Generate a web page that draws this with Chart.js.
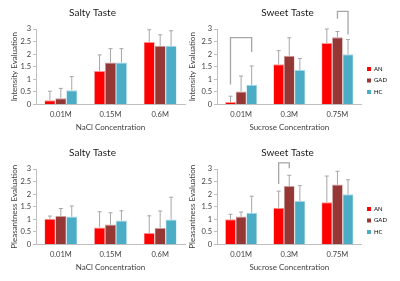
<!DOCTYPE html>
<html>
<head>
<meta charset="utf-8">
<script src="https://cdn.jsdelivr.net/npm/chart.js@4"></script>
<style>
    html, body { margin: 0; padding: 0; background: #fff; overflow: hidden; }
    body { width: 400px; height: 281px; position: relative; }
    canvas { position: absolute; }
</style>
</head>
<body>
<canvas id="saltyIntensity" width="192" height="140" style="left:0;top:0"></canvas>
<canvas id="sweetIntensity" width="222" height="161" style="left:178px;top:0"></canvas>
<canvas id="saltyPleasant" width="192" height="141" style="left:0;top:140px"></canvas>
<canvas id="sweetPleasant" width="222" height="161" style="left:178px;top:140px"></canvas>
<script>
// ============================================
// DATA
// ============================================

const groups = ["AN", "GAD", "HC"];
const saltCategories = ["0.01M", "0.15M", "0.6M"];
const sweetCategories = ["0.01M", "0.3M", "0.75M"];
const yTicks = [0, 0.5, 1, 1.5, 2, 2.5, 3];

// salty / intensity : means and top of the error bar
const saltyIntensityAN = [0.17, 1.33, 2.48];
const saltyIntensityGAD = [0.25, 1.67, 2.33];
const saltyIntensityHC = [0.57, 1.67, 2.33];
const saltyIntensityErrAN = [0.53, 1.97, 2.97];
const saltyIntensityErrGAD = [0.64, 2.22, 2.77];
const saltyIntensityErrHC = [1.11, 2.22, 2.93];

// sweet / intensity
const sweetIntensityAN = [0.1, 1.6, 2.44];
const sweetIntensityGAD = [0.52, 1.94, 2.67];
const sweetIntensityHC = [0.78, 1.37, 2.0];
const sweetIntensityErrAN = [0.33, 2.14, 3.0];
const sweetIntensityErrGAD = [1.13, 2.65, 2.9];
const sweetIntensityErrHC = [1.53, 1.83, 2.58];

// salty / pleasantness
const saltyPleasantAN = [1.02, 0.68, 0.46];
const saltyPleasantGAD = [1.13, 0.79, 0.66];
const saltyPleasantHC = [1.11, 0.95, 0.99];
const saltyPleasantErrAN = [1.13, 1.3, 1.14];
const saltyPleasantErrGAD = [1.43, 1.26, 1.33];
const saltyPleasantErrHC = [1.53, 1.34, 1.88];

// sweet / pleasantness
const sweetPleasantAN = [1.0, 1.46, 1.68];
const sweetPleasantGAD = [1.11, 2.32, 2.38];
const sweetPleasantHC = [1.26, 1.73, 2.0];
const sweetPleasantErrAN = [1.2, 2.12, 2.72];
const sweetPleasantErrGAD = [1.29, 2.75, 2.91];
const sweetPleasantErrHC = [1.92, 2.34, 2.57];

// significance brackets: category, from group, to group, y of bar, y of left end, y of right end
const sweetIntensityBrackets = [
    { cat: 0, from: 0, to: 2, top: 2.66, left: 0.79, right: 2.09 },
    { cat: 2, from: 1, to: 2, top: 3.7, left: 3.41, right: 2.78 },
];
const sweetPleasantBrackets = [
    { cat: 1, from: 0, to: 1, top: 3.24, left: 2.4, right: 3.03 },
];

// ============================================
// STYLE
// ============================================

const groupColors = ["#FF0000", "#953735", "#4BACC6"];
const groupEdges = ["#FF9090", "#C99B9A", "#A5D5E2"];
const axisColor = "#BFBFBF";
const whiskerColor = "#A6A6A6";

Chart.defaults.font.family = "Lato, 'Open Sans', sans-serif";
Chart.defaults.color = "#404040";

// ============================================
// PLUGINS
// ============================================

const errorBarPlugin = {
    id: "errorBars",
    afterDatasetsDraw(chart) {
        const ctx = chart.ctx;
        const yScale = chart.scales.y;
        ctx.save();
        ctx.strokeStyle = whiskerColor;
        ctx.lineWidth = 1;
        chart.data.datasets.forEach((ds, i) => {
            const meta = chart.getDatasetMeta(i);
            meta.data.forEach((bar, j) => {
                const yTop = yScale.getPixelForValue(ds.errTop[j]);
                ctx.beginPath();
                ctx.moveTo(bar.x, bar.y);
                ctx.lineTo(bar.x, yTop);
                ctx.moveTo(bar.x - 2, yTop);
                ctx.lineTo(bar.x + 2, yTop);
                ctx.stroke();
            });
        });
        ctx.restore();
    },
};

const bracketPlugin = {
    id: "brackets",
    afterDraw(chart, args, opts) {
        const list = opts.items || [];
        if (!list.length) return;
        const ctx = chart.ctx;
        const yScale = chart.scales.y;
        ctx.save();
        ctx.strokeStyle = whiskerColor;
        ctx.lineWidth = 1.3;
        list.forEach((b) => {
            const x1 = chart.getDatasetMeta(b.from).data[b.cat].x;
            const x2 = chart.getDatasetMeta(b.to).data[b.cat].x;
            ctx.beginPath();
            ctx.moveTo(x1, yScale.getPixelForValue(b.left));
            ctx.lineTo(x1, yScale.getPixelForValue(b.top));
            ctx.lineTo(x2, yScale.getPixelForValue(b.top));
            ctx.lineTo(x2, yScale.getPixelForValue(b.right));
            ctx.stroke();
        });
        ctx.restore();
    },
};

// ============================================
// CHART CREATION
// ============================================

function createPanel(id, cfg) {
    const el = document.getElementById(id);
    const h = el.height;
    const datasets = groups.map((g, i) => ({
        label: g,
        data: cfg.values[i],
        errTop: cfg.errors[i],
        backgroundColor: groupColors[i],
        borderColor: groupEdges[i],
        borderWidth: { top: 1, left: 0.6, right: 0.6, bottom: 0 },
        categoryPercentage: 0.66,
        barPercentage: 1,
    }));

    return new Chart(el, {
        type: "bar",
        data: { labels: cfg.labels, datasets },
        plugins: [errorBarPlugin, bracketPlugin],
        options: {
            responsive: false,
            animation: false,
            layout: { padding: { left: 0, right: cfg.legend ? 3 : 7, top: 0, bottom: 0 } },
            plugins: {
                title: {
                    display: true,
                    text: cfg.title,
                    color: "#1a1a1a",
                    font: { size: 10, weight: "normal" },
                    padding: { top: 7, bottom: 10 },
                },
                legend: {
                    display: !!cfg.legend,
                    position: "right",
                    labels: {
                        boxWidth: 4,
                        boxHeight: 4,
                        padding: 5.5,
                        font: { size: 6 },
                        generateLabels: (chart) =>
                            chart.data.datasets.map((ds, i) => ({
                                text: ds.label,
                                fillStyle: groupColors[i],
                                strokeStyle: groupColors[i],
                                lineWidth: 0,
                                datasetIndex: i,
                            })),
                    },
                },
                tooltip: { enabled: false },
                brackets: { items: cfg.brackets || [] },
            },
            scales: {
                x: {
                    grid: { drawOnChartArea: false, drawTicks: false },
                    border: { color: axisColor },
                    ticks: { padding: 6, font: { size: 7.5 } },
                    title: {
                        display: true,
                        text: cfg.xTitle,
                        font: { size: 8 },
                        padding: { top: 0, bottom: h - 127 - 4.8 },
                    },
                    afterFit: (scale) => { scale.height = h - 104.5; },
                },
                y: {
                    min: 0,
                    max: 3,
                    afterBuildTicks: (scale) => {
                        scale.ticks = yTicks.map((v) => ({ value: v }));
                    },
                    grid: { drawOnChartArea: false, tickLength: 3, color: axisColor },
                    border: { color: axisColor },
                    ticks: {
                        padding: 2,
                        font: { size: 7.5 },
                        callback: (v) => String(v),
                    },
                    title: {
                        display: true,
                        text: cfg.yTitle,
                        font: { size: 8 },
                        padding: { top: 10, bottom: 0 },
                    },
                    afterFit: (scale) => { scale.width = cfg.yWidth; },
                },
            },
        },
    });
}

createPanel("saltyIntensity", {
    title: "Salty Taste",
    labels: saltCategories,
    values: [saltyIntensityAN, saltyIntensityGAD, saltyIntensityHC],
    errors: [saltyIntensityErrAN, saltyIntensityErrGAD, saltyIntensityErrHC],
    xTitle: "NaCl Concentration",
    yTitle: "Intensity Evaluation",
    yWidth: 36,
});

createPanel("sweetIntensity", {
    title: "Sweet Taste",
    labels: sweetCategories,
    values: [sweetIntensityAN, sweetIntensityGAD, sweetIntensityHC],
    errors: [sweetIntensityErrAN, sweetIntensityErrGAD, sweetIntensityErrHC],
    xTitle: "Sucrose Concentration",
    yTitle: "Intensity Evaluation",
    yWidth: 39,
    legend: true,
    brackets: sweetIntensityBrackets,
});

createPanel("saltyPleasant", {
    title: "Salty Taste",
    labels: saltCategories,
    values: [saltyPleasantAN, saltyPleasantGAD, saltyPleasantHC],
    errors: [saltyPleasantErrAN, saltyPleasantErrGAD, saltyPleasantErrHC],
    xTitle: "NaCl Concentration",
    yTitle: "Pleasantness Evaluation",
    yWidth: 36,
});

createPanel("sweetPleasant", {
    title: "Sweet Taste",
    labels: sweetCategories,
    values: [sweetPleasantAN, sweetPleasantGAD, sweetPleasantHC],
    errors: [sweetPleasantErrAN, sweetPleasantErrGAD, sweetPleasantErrHC],
    xTitle: "Sucrose Concentration",
    yTitle: "Pleasantness Evaluation",
    yWidth: 39,
    legend: true,
    brackets: sweetPleasantBrackets,
});
</script>
</body>
</html>
